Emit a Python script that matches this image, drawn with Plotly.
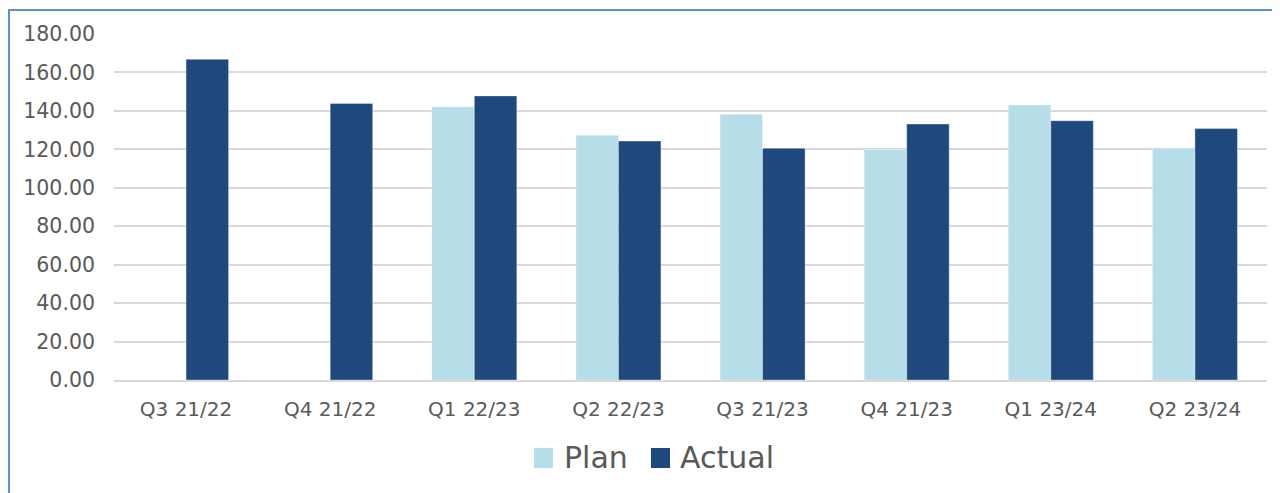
import plotly.graph_objects as go

categories = ["Q3 21/22", "Q4 21/22", "Q1 22/23", "Q2 22/23",
              "Q3 21/23", "Q4 21/23", "Q1 23/24", "Q2 23/24"]
plan = [None, None, 142.1, 127.3, 138.3, 119.8, 143.1, 120.7]
actual = [166.8, 143.9, 147.8, 124.3, 120.5, 133.2, 134.9, 130.8]
y_ticks = [0, 20, 40, 60, 80, 100, 120, 140, 160, 180]
series_names = ["Plan", "Actual"]
series_colors = ["#B7DDE8", "#1F497D"]

FONT = "Verdana, DejaVu Sans, sans-serif"
GREY = "#595959"

fig = go.Figure()
for name, vals, col in zip(series_names, [plan, actual], series_colors):
    fig.add_trace(go.Bar(
        x=categories, y=vals, name=name,
        marker=dict(color=col, line=dict(color="rgba(255,255,255,0.35)", width=1)),
        showlegend=False,
    ))

# the page body adds an 8px margin, so the figure is sized/offset to compensate
fig.update_layout(
    width=1272, height=485,
    margin=dict(l=106, r=13, t=26, b=113),
    paper_bgcolor="white", plot_bgcolor="white",
    barmode="group", bargap=0.41, bargroupgap=0,
    font=dict(family=FONT, color=GREY, size=20),
    showlegend=False,
)
fig.update_yaxes(
    range=[0, 180], tickvals=y_ticks, tickformat=".2f",
    showgrid=True, gridcolor="#D9D9D9", gridwidth=1.5,
    zeroline=False, showline=False, ticks="",
    ticklabelstandoff=18,
    tickfont=dict(family=FONT, size=20.5, color=GREY),
)
fig.update_xaxes(
    showline=True, linecolor="#D9D9D9", linewidth=1.5,
    ticks="", showgrid=False,
    ticklabelstandoff=10,
    tickfont=dict(family=FONT, size=20, color=GREY),
)

# outer chart border (partial, like the cropped Excel chart frame)
fig.add_shape(type="rect", xref="paper", yref="paper",
              x0=-0.0911, x1=1.08, y0=-0.45, y1=1.0694,
              line=dict(color="#5B8FD0", width=2), fillcolor="rgba(0,0,0,0)", layer="above")

# manual legend (large swatches like Excel)
legend_items = [(0.3643, 0.3807, 0.3886), (0.4657, 0.4822, 0.4892)]
for (bx0, bx1, tx), name, col in zip(legend_items, series_names, series_colors):
    fig.add_shape(type="rect", xref="paper", yref="paper",
                  x0=bx0, x1=bx1, y0=-0.2543, y1=-0.1965,
                  line=dict(width=0), fillcolor=col)
    fig.add_annotation(xref="paper", yref="paper", x=tx, y=-0.2254,
                       text=name, showarrow=False, xanchor="left", yanchor="middle",
                       font=dict(family=FONT, size=30, color=GREY))

fig.write_html("out.html")
